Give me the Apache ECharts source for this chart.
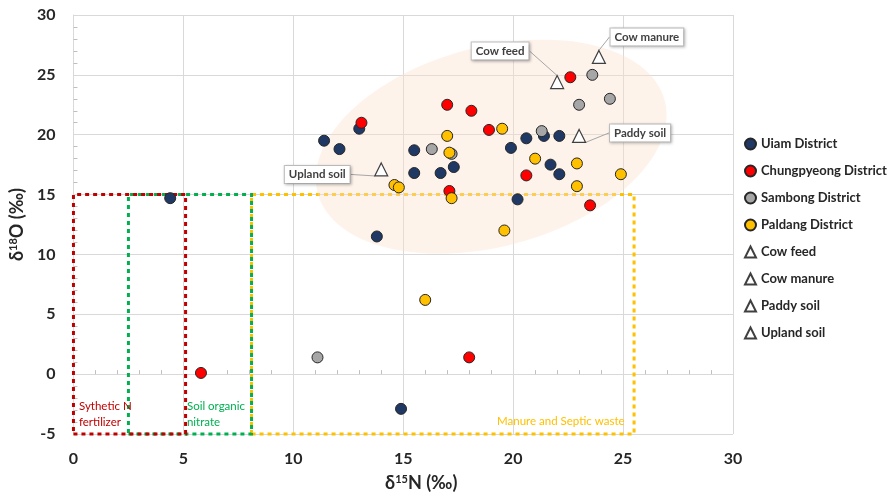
<!DOCTYPE html>
<html><head><meta charset="utf-8">
<script src="https://cdn.jsdelivr.net/npm/echarts@6/dist/echarts.min.js"></script>
<style>html,body{margin:0;padding:0;background:#fff}#c{width:888px;height:497px}</style>
</head><body><div id="c"></div>
<script>
// ---- data ----
const xTicks = [0, 5, 10, 15, 20, 25, 30];
const yTicks = [-5, 0, 5, 10, 15, 20, 25, 30];
const seriesNames = ['Uiam District','Chungpyeong District','Sambong District','Paldang District','Cow feed','Cow manure','Paddy soil','Upland soil'];
const uiam = [[4.4,14.7],[14.9,-2.9],[13.8,11.5],[11.4,19.5],[12.1,18.8],[13.0,20.5],[15.5,18.7],[15.5,16.8],[16.7,16.8],[17.3,17.3],[20.6,19.7],[19.9,18.9],[21.4,19.9],[22.1,19.9],[21.7,17.5],[22.1,16.7],[20.2,14.6]];
const chungpyeong = [[5.8,0.1],[18.0,1.4],[13.1,21.0],[17.1,15.3],[17.0,22.5],[18.1,22.0],[18.9,20.4],[22.6,24.8],[20.6,16.6],[23.5,14.1]];
const sambong = [[11.1,1.4],[16.3,18.8],[17.2,18.4],[23.6,25.0],[24.4,23.0],[23.0,22.5],[21.3,20.3]];
const paldang = [[16.0,6.2],[19.6,12.0],[17.0,19.9],[17.1,18.5],[14.6,15.8],[14.8,15.6],[17.2,14.7],[19.5,20.5],[21.0,18.0],[22.9,17.6],[24.9,16.7],[22.9,15.7]];
const cowFeed = [[22.0,24.4]];
const cowManure = [[23.9,26.5]];
const paddySoil = [[23.0,19.9]];
const uplandSoil = [[14.0,17.1]];
// source ranges (x from-to, y from-to)
const syntheticN = [[0, -5], [5.1, 15]];
const soilOrganic = [[2.5, -5], [8.1, 15]];
const manureSeptic = [[8.1, -5], [25.5, 15]];
// ellipse: center x, center y, semi-major, semi-minor (x units), tilt deg
const ellipse = [[19.0, 19.0, 8.17, 4.54, 15]];

const FONT = 'Lato';
const chart = echarts.init(document.getElementById('c'), null, {renderer: 'canvas'});

function district(name, data, color) {
  return {
    name, type: 'scatter', data, symbol: 'circle', symbolSize: 11, z: 5,
    itemStyle: {color, borderColor: '#262626', borderWidth: 1, opacity: 1}
  };
}
function source(name, data, dx, dy) {
  return {
    name, type: 'scatter', data, symbol: 'triangle', symbolSize: 13, z: 6,
    itemStyle: {color: '#ffffff', borderColor: '#404040', borderWidth: 1.2, opacity: 1},
    label: {
      show: true, position: 'inside', formatter: '{a}',
      backgroundColor: '#ffffff', borderColor: '#BFBFBF', borderWidth: 1,
      padding: [3, 4, 2, 4], fontFamily: FONT, fontWeight: 'bold', fontSize: 11.5, color: '#404040',
      shadowBlur: 3, shadowColor: 'rgba(0,0,0,0.25)', shadowOffsetX: 1, shadowOffsetY: 1
    },
    labelLayout: {dx, dy},
    labelLine: {show: true, lineStyle: {color: '#A6A6A6', width: 1}}
  };
}
function area(range, color, text, pos, offset) {
  return [{
    coord: range[0],
    itemStyle: {color: 'rgba(0,0,0,0)', borderColor: color, borderWidth: 3, borderType: [4, 4]},
    label: {show: true, position: pos, offset, formatter: text, color, fontFamily: FONT, fontSize: 11.5, lineHeight: 16, distance: 5}
  }, {coord: range[1]}];
}

const option = {
  animation: false,
  backgroundColor: '#fff',
  grid: {left: 72, right: 155, top: 15, bottom: 59, containLabel: false},
  legend: {
    data: seriesNames, orient: 'vertical', left: 744, top: 136, padding: 0,
    itemWidth: 11, itemHeight: 11, itemGap: 11,
    textStyle: {fontFamily: FONT, fontWeight: 'bold', fontSize: 13, color: '#262626', lineHeight: 16},
    selectedMode: false
  },
  xAxis: {
    type: 'value', min: xTicks[0], max: xTicks[xTicks.length - 1], interval: 5,
    name: '{a|δ}{s|15}{a|N (‰)}', nameLocation: 'middle', nameGap: 40,
    nameTextStyle: {padding: [0, 0, 0, 36], rich: {
      a: {fontFamily: FONT, fontWeight: 'bold', fontSize: 18, color: '#262626'},
      s: {fontFamily: FONT, fontWeight: 'bold', fontSize: 11, color: '#262626', verticalAlign: 'top', padding: [0, 0, 6, 0]}}},
    axisLine: {show: true, lineStyle: {color: '#D9D9D9'}},
    axisTick: {show: false, inside: true},
    minorTick: {show: true, splitNumber: 5, length: 4, lineStyle: {color: '#BFBFBF'}},
    axisLabel: {margin: 17, fontFamily: FONT, fontWeight: 'bold', fontSize: 16, color: '#262626'},
    splitLine: {show: true, lineStyle: {color: '#D9D9D9'}}
  },
  yAxis: {
    type: 'value', min: yTicks[0], max: yTicks[yTicks.length - 1], interval: 5,
    name: '{a|δ}{s|18}{a|O (‰)}', nameLocation: 'middle', nameGap: 44, nameRotate: 90,
    nameTextStyle: {rich: {
      a: {fontFamily: FONT, fontWeight: 'bold', fontSize: 18, color: '#262626'},
      s: {fontFamily: FONT, fontWeight: 'bold', fontSize: 11, color: '#262626', verticalAlign: 'top', padding: [0, 0, 6, 0]}}},
    axisLine: {show: true, lineStyle: {color: '#D9D9D9'}},
    axisTick: {show: false, inside: true},
    minorTick: {show: true, splitNumber: 5, length: 4, lineStyle: {color: '#BFBFBF'}},
    axisLabel: {margin: 18, fontFamily: FONT, fontWeight: 'bold', fontSize: 16, color: '#262626'},
    splitLine: {show: true, lineStyle: {color: '#D9D9D9'}}
  },
  series: [
    {
      name: 'ellipse', type: 'custom', data: ellipse, z: 1, silent: true,
      renderItem: function (params, api) {
        const c = api.coord([api.value(0), api.value(1)]);
        const a = api.size([api.value(2), 0])[0];
        const b = api.size([api.value(3), 0])[0];
        const t = api.value(4) * Math.PI / 180;
        const pts = [];
        for (let i = 0; i < 120; i++) {
          const u = i / 120 * Math.PI * 2;
          const px = a * Math.cos(u), py = b * Math.sin(u);
          pts.push([c[0] + px * Math.cos(t) + py * Math.sin(t), c[1] - px * Math.sin(t) + py * Math.cos(t)]);
        }
        return {type: 'polygon', shape: {points: pts}, style: {fill: 'rgba(251,224,204,0.4)', stroke: null}};
      }
    },
    {
      name: 'areas', type: 'scatter', data: [], z: 3, silent: true,
      markArea: {silent: true, data: [
        area(manureSeptic, '#FFC000', 'Manure and Septic waste', 'insideBottomRight', [-6, -1]),
        area(soilOrganic, '#00B050', 'Soil organic\nnitrate', 'insideBottomLeft', [55, 0]),
        area(syntheticN, '#C00000', 'Sythetic N\nfertilizer', 'insideBottomLeft', [2, 0])
      ]}
    },
    district('Uiam District', uiam, '#1F3864'),
    district('Chungpyeong District', chungpyeong, '#FF0000'),
    district('Sambong District', sambong, '#A6A6A6'),
    district('Paldang District', paldang, '#FFC000'),
    source('Cow feed', cowFeed, -57, -31),
    source('Cow manure', cowManure, 48, -20),
    source('Paddy soil', paddySoil, 61, -3),
    source('Upland soil', uplandSoil, -64, 5)
  ]
};
chart.setOption(option);
</script></body></html>
